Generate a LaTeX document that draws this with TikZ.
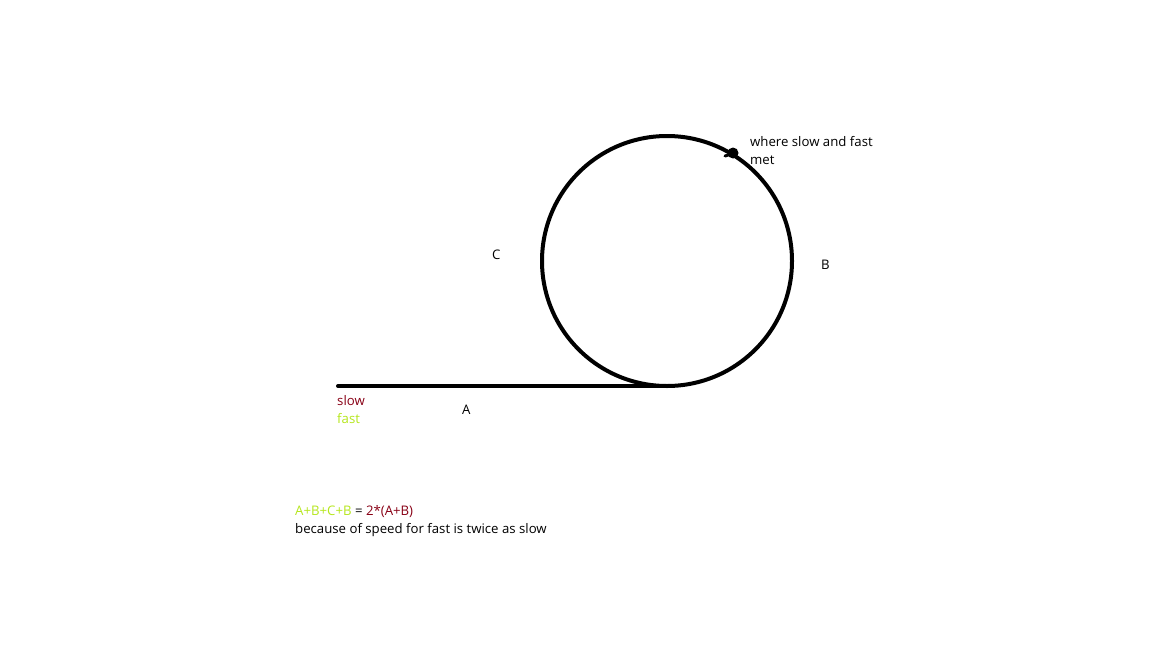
\documentclass[tikz,border=0pt]{standalone}
\usepackage{fontspec}
\setmainfont{Open Sans}
\definecolor{pdred}{HTML}{880015}
\definecolor{plime}{HTML}{B5E61D}
\begin{document}
\begin{tikzpicture}[x=1pt,y=-1pt,font=\fontsize{13.2}{16}\selectfont,
  txt/.style={anchor=west,inner sep=0pt},track/.style={line width=4pt,line cap=round}]
\useasboundingbox (0,0) rectangle (1152,648);
\coordinate (start) at (338,386);
\coordinate (base) at (667,386);
\coordinate (ctr) at (667,261);
\draw[track] (start)--(base);
\draw[track] (ctr) circle (125);
\fill (733,153) circle (5.5);
\draw[line width=3pt,line cap=round] (725,156)--(734,153);
\node[txt] (where) at (750,142){where slow and fast};
\node[txt] (met) at (750,160){met};
\node[txt] (C) at (492,255){C};
\node[txt] (B) at (821,265){B};
\node[txt] (A) at (462,410){A};
\node[txt,text=pdred] (slow) at (337,401){slow};
\node[txt,text=plime] (fast) at (337,419){fast};
\node[txt] (eq) at (295,512){\textcolor{plime}{A+B+C+B} = \textcolor{pdred}{2*(A+B)}};
\node[txt] (because) at (295,530){because of speed for fast is twice as slow};
\end{tikzpicture}
\end{document}
